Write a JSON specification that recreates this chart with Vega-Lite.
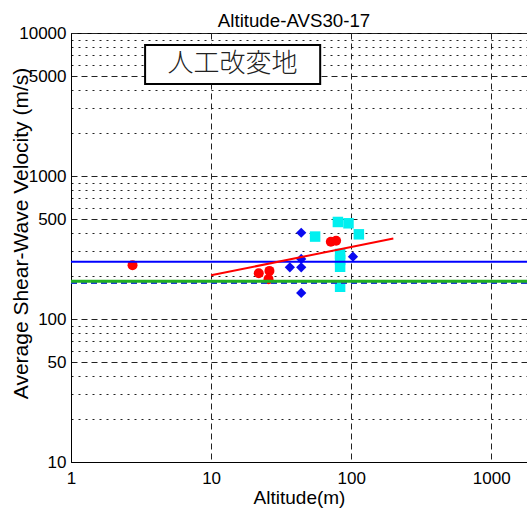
{
  "$schema": "https://vega.github.io/schema/vega-lite/v6.json",
  "width": 456,
  "height": 429,
  "autosize": "none",
  "padding": {"left": 71, "top": 33, "right": 0, "bottom": 48},
  "background": "white",
  "title": {
    "text": "Altitude-AVS30-17",
    "font": "Liberation Sans",
    "fontSize": 18.7,
    "fontWeight": "normal",
    "color": "black",
    "offset": -7,
    "dx": -5
  },
  "config": {
    "view": {"stroke": "black", "strokeWidth": 1},
    "font": "Liberation Sans"
  },
  "datasets": {
    "sites": [
      {"alt": 2.75, "vs": 238, "grp": "a"},
      {"alt": 21.9, "vs": 209, "grp": "a"},
      {"alt": 26.1, "vs": 217, "grp": "a"},
      {"alt": 25.7, "vs": 190, "grp": "a"},
      {"alt": 71.6, "vs": 347, "grp": "a"},
      {"alt": 78.1, "vs": 353, "grp": "a"},
      {"alt": 44, "vs": 401, "grp": "b"},
      {"alt": 44, "vs": 263, "grp": "b"},
      {"alt": 44, "vs": 230, "grp": "b"},
      {"alt": 36.5, "vs": 230, "grp": "b"},
      {"alt": 44, "vs": 152, "grp": "b"},
      {"alt": 103, "vs": 273, "grp": "b"},
      {"alt": 80.4, "vs": 477, "grp": "c"},
      {"alt": 95.7, "vs": 467, "grp": "c"},
      {"alt": 55.3, "vs": 377, "grp": "c"},
      {"alt": 113.5, "vs": 391, "grp": "c"},
      {"alt": 83.4, "vs": 285, "grp": "c"},
      {"alt": 83.4, "vs": 259, "grp": "c"},
      {"alt": 83.4, "vs": 232, "grp": "c"},
      {"alt": 83.4, "vs": 168, "grp": "c"}
    ],
    "fit": [
      {"alt": 10, "vs": 202},
      {"alt": 200, "vs": 366}
    ],
    "box": [
      {"alt": 3.38, "alt2": 60.1, "vs": 8245, "vs2": 4396, "altc": 14.24, "vsc": 6026, "label": "人工改変地"}
    ]
  },
  "layer": [
    {
      "data": {"name": "sites"},
      "mark": {"type": "point", "filled": true, "opacity": 1, "strokeWidth": 0},
      "encoding": {
        "x": {
          "field": "alt",
          "type": "quantitative",
          "scale": {"type": "log", "domain": [1, 1800], "nice": false},
          "axis": {
            "title": "Altitude(m)",
            "titleFont": "Liberation Sans",
            "titleFontSize": 19,
            "titleFontWeight": "normal",
            "titleColor": "black",
            "titlePadding": 2,
            "values": [1, 10, 100, 1000],
            "format": "d",
            "labelFont": "Liberation Sans",
            "labelFontSize": 17,
            "labelColor": "black",
            "labelPadding": 8,
            "labelFlush": false,
            "labelOverlap": false,
            "ticks": false,
            "tickSize": 0,
            "domainColor": "black",
            "domainWidth": 1,
            "grid": true,
            "gridColor": "#222222",
            "gridWidth": 1,
            "gridDash": [6, 4]
          }
        },
        "y": {
          "field": "vs",
          "type": "quantitative",
          "scale": {"type": "log", "domain": [10, 10000], "nice": false},
          "axis": {
            "title": "Average Shear-Wave Velocity (m/s)",
            "titleFont": "Liberation Sans",
            "titleFontSize": 21,
            "titleFontWeight": "normal",
            "titleColor": "black",
            "titleX": -40,
            "titleY": 200,
            "values": [10, 20, 30, 40, 50, 60, 70, 80, 90, 100, 200, 300, 400, 500, 600, 700, 800, 900, 1000, 2000, 3000, 4000, 5000, 6000, 7000, 8000, 9000, 10000],
            "format": "d",
            "labelExpr": "indexof([10, 50, 100, 500, 1000, 5000, 10000], datum.value) >= 0 ? datum.label : ''",
            "labelFont": "Liberation Sans",
            "labelFontSize": 17,
            "labelColor": "black",
            "labelPadding": 5,
            "labelFlush": false,
            "labelOverlap": false,
            "ticks": false,
            "tickSize": 0,
            "domainColor": "black",
            "domainWidth": 1,
            "grid": true,
            "gridColor": "#222222",
            "gridWidth": 1,
            "gridDash": {
              "condition": {"test": "indexof([10, 50, 100, 500, 1000, 5000, 10000], datum.value) >= 0", "value": [6, 4]},
              "value": [2, 5]
            }
          }
        },
        "shape": {
          "field": "grp",
          "type": "nominal",
          "scale": {"domain": ["a", "b", "c"], "range": ["circle", "diamond", "square"]},
          "legend": null
        },
        "color": {
          "field": "grp",
          "type": "nominal",
          "scale": {"domain": ["a", "b", "c"], "range": ["#ff0000", "#0a0af0", "#00f0f0"]},
          "legend": null
        },
        "size": {
          "field": "grp",
          "type": "nominal",
          "scale": {"domain": ["a", "b", "c"], "range": [100, 110, 64]},
          "legend": null
        }
      }
    },
    {
      "data": {"values": [{"vs": 179}]},
      "mark": {"type": "rule", "color": "#1f3fd0", "strokeWidth": 2.5, "strokeDash": [6, 4]},
      "encoding": {"y": {"field": "vs", "type": "quantitative"}}
    },
    {
      "data": {"values": [{"vs": 184}]},
      "mark": {"type": "rule", "color": "#22b022", "strokeWidth": 3},
      "encoding": {"y": {"field": "vs", "type": "quantitative"}}
    },
    {
      "data": {"values": [{"vs": 251}]},
      "mark": {"type": "rule", "color": "#0000ff", "strokeWidth": 2},
      "encoding": {"y": {"field": "vs", "type": "quantitative"}}
    },
    {
      "data": {"name": "fit"},
      "mark": {"type": "line", "color": "#ff0000", "strokeWidth": 2},
      "encoding": {
        "x": {"field": "alt", "type": "quantitative"},
        "y": {"field": "vs", "type": "quantitative"}
      }
    },
    {
      "data": {"name": "box"},
      "mark": {"type": "rect", "fill": "white", "stroke": "black", "strokeWidth": 2},
      "encoding": {
        "x": {"field": "alt", "type": "quantitative"},
        "x2": {"field": "alt2"},
        "y": {"field": "vs", "type": "quantitative"},
        "y2": {"field": "vs2"}
      }
    },
    {
      "data": {"name": "box"},
      "mark": {"type": "text", "font": "Noto Sans CJK JP", "fontSize": 26, "fontWeight": 300, "color": "#222222", "align": "center", "baseline": "middle"},
      "encoding": {
        "x": {"field": "altc", "type": "quantitative"},
        "y": {"field": "vsc", "type": "quantitative"},
        "text": {"field": "label"}
      }
    }
  ]
}
